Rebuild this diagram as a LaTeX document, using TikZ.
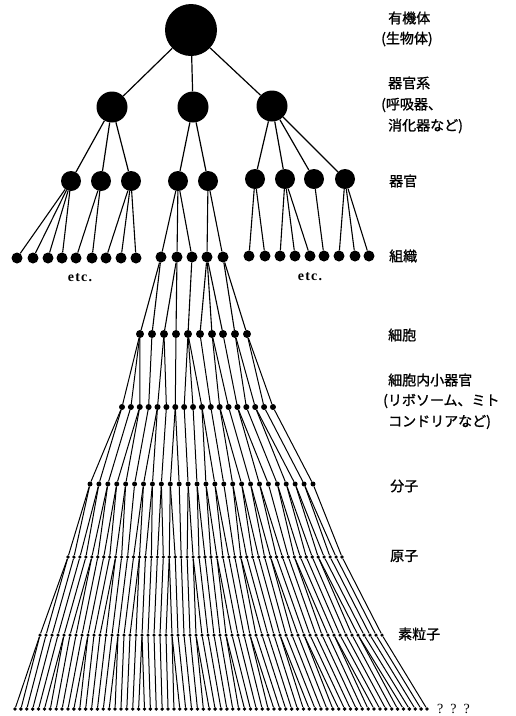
\documentclass[tikz,border=0pt]{standalone}
\usepackage{fontspec}
\setmainfont{Liberation Serif}
\newfontfamily\jp[AutoFakeBold=1.2]{Noto Sans CJK JP}
\begin{document}
\begin{tikzpicture}[x=1pt,y=-1pt,
  dot/.style={circle,fill=black,draw=none,inner sep=0pt,minimum size=#1},
  link/.style={line width=1pt},
  lab/.style={anchor=west,inner sep=0pt,font=\jp\bfseries\fontsize{14}{16}\selectfont},
  etcstyle/.style={inner sep=0pt,font=\fontsize{14}{16}\selectfont\bfseries},
  qstyle/.style={inner sep=0pt,font=\fontsize{14}{16}\selectfont}]
\useasboundingbox (0,0) rectangle (515,716);

% level 0-2
\node[dot=52pt] (A) at (191,30) {};
\node[dot=31pt] (B1) at (112,107) {};
\node[dot=31pt] (B2) at (193,107) {};
\node[dot=31pt] (B3) at (272,106) {};
\foreach \x/\y [count=\i] in {71/181,101/181,131/181,178/181,208/181,255/179,285/179,314/179,345/179}
  \node[dot=20pt] (C\i) at (\x,\y) {};
% level 3
\foreach \x/\y [count=\i] in {17/258,33/258,48/258,62/258,76/258,92/258,106/258,121/258,136/258,
  161/257,177/257,192/257,207/257,223/257,
  249/256,265/256,280/256,295/256,310/256,324/256,339/256,355/256,369/256}
  \node[dot=11pt] (D\i) at (\x,\y) {};
% level 4
\foreach \x [count=\i] in {140,152,164,176,188,200,212,223,235,247}
  \node[dot=8pt] (E\i) at (\x,334) {};
% level 5
\foreach \i in {1,...,18} \node[dot=6pt] (F\i) at ({122+(\i-1)*8.88},407) {};
% level 6
\foreach \i in {1,...,26} \node[dot=5pt] (G\i) at ({90+(\i-1)*8.92},484) {};
% level 7
\foreach \i in {1,...,47} \node[dot=3.6pt] (H\i) at ({68+(\i-1)*5.957},557) {};
% level 8
\foreach \i in {1,...,58} \node[dot=3.5pt] (I\i) at ({40+(\i-1)*6.0},635) {};
% level 9
\foreach \i in {1,...,71} \node[dot=3.8pt] (J\i) at ({15+(\i-1)*5.886},709) {};

% connectors
\draw[link,line width=1.2pt] (A) -- (B1) (A) -- (B2) (A) -- (B3);
\foreach \p/\c in {B1/C1,B1/C2,B1/C3,B2/C4,B2/C5,B3/C6,B3/C7,B3/C8,B3/C9}
  \draw[link,line width=1.2pt] (\p) -- (\c);
\foreach \p/\c in {1/1,1/2,1/3,1/4,2/5,2/6,3/7,3/8,3/9,4/10,4/11,4/12,5/13,5/14,
  6/15,6/16,7/17,7/18,7/19,8/20,9/21,9/22,9/23}
  \draw[link,line width=1.1pt] (C\p) -- (D\c);
\foreach \p/\c in {10/1,10/2,11/3,11/4,12/5,13/6,13/7,13/8,14/9,14/10}
  \draw[link,line width=1.1pt] (D\p) -- (E\c);
\foreach \p [count=\c] in {1,1,1,2,3,3,4,5,5,5,6,7,7,8,9,9,10,10}
  \draw[link] (E\p) -- (F\c);
\foreach \c in {1,...,26}{
  \pgfmathtruncatemacro\p{floor((\c-1)*18/26)+1}
  \draw[link] (F\p) -- (G\c);}
\foreach \c in {1,...,47}{
  \pgfmathtruncatemacro\p{floor((\c-1)*26/47)+1}
  \draw[link] (G\p) -- (H\c);}
\foreach \c in {1,...,58}{
  \pgfmathtruncatemacro\p{floor((\c-1)*47/58)+1}
  \draw[link] (H\p) -- (I\c);}
\foreach \c in {1,...,71}{
  \pgfmathtruncatemacro\p{floor((\c-1)*58/71)+1}
  \draw[link] (I\p) -- (J\c);}

% labels
\node[lab] (t1) at (388,18) {有機体};
\node[lab] (t2) at (381,39) {(生物体)};
\node[lab] (t3) at (388,83) {器官系};
\node[lab] (t4) at (381,105) {(呼吸器、};
\node[lab] (t5) at (388,126) {消化器など)};
\node[lab] (t6) at (389,181) {器官};
\node[lab] (t7) at (389,256) {組織};
\node[lab] (t8) at (388,335) {細胞};
\node[lab] (t9) at (388,380) {細胞内小器官};
\node[lab] (t10) at (383,401) {(リボソーム、ミト};
\node[lab] (t11) at (388,422) {コンドリアなど)};
\node[lab] (t12) at (390,486) {分子};
\node[lab] (t13) at (390,556) {原子};
\node[lab] (t14) at (398,634) {素粒子};
\node[qstyle,anchor=west] (q) at (437,709) {?\hspace{7pt}?\hspace{7pt}?};
\node[etcstyle] (e1) at (80,278) {e\kern1.2pt t\kern1.2pt c\kern1.2pt .};
\node[etcstyle] (e2) at (310,277) {e\kern1.2pt t\kern1.2pt c\kern1.2pt .};
\end{tikzpicture}
\end{document}
